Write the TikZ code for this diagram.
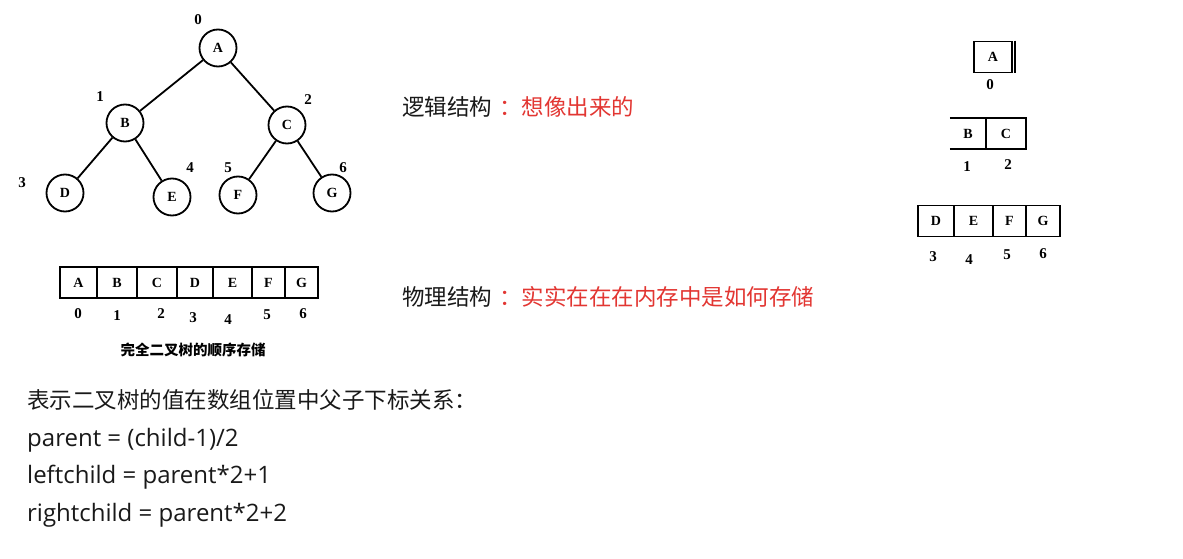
\documentclass[tikz,border=0pt]{standalone}
\usepackage{fontspec}
\setmainfont{Liberation Serif}
\newfontfamily\cjkfont{Noto Sans CJK SC}
\newfontfamily\notefont{Open Sans}
\usetikzlibrary{positioning}
\definecolor{notered}{RGB}{226,54,50}
\definecolor{noteblack}{RGB}{25,25,25}
\tikzset{
  treenode/.style={draw, circle, line width=1.8pt, minimum size=37pt, inner sep=0pt,
    font=\fontsize{14}{14}\selectfont\bfseries},
  treeedge/.style={line width=1.8pt},
  cell/.style={draw, line width=1.6pt, minimum height=31pt, inner sep=0pt,
    font=\fontsize{14}{14}\selectfont\bfseries},
  cellline/.style={line width=1.6pt},
  idx/.style={inner sep=0pt, font=\fontsize{15}{15}\selectfont\bfseries},
  notetext/.style={anchor=west, inner sep=0pt, text=noteblack,
    font=\cjkfont\fontsize{22.5}{26}\selectfont},
  formula/.style={anchor=west, inner sep=0pt, text=noteblack,
    font=\notefont\fontsize{24}{28}\selectfont}
}

\begin{document}
\begin{tikzpicture}[x=1pt, y=-1pt]
  \useasboundingbox (0,0) rectangle (1183,559);

  % logical view: the tree
  \node[treenode] (A) at (218,48) {A};
  \node[treenode] (B) at (125,123) {B};
  \node[treenode] (C) at (287,125) {C};
  \node[treenode] (D) at (65,193) {D};
  \node[treenode] (E) at (172,197) {E};
  \node[treenode] (F) at (238,195) {F};
  \node[treenode] (G) at (332,193) {G};
  \draw[treeedge] (A) -- (B);
  \draw[treeedge] (A) -- (C);
  \draw[treeedge] (B) -- (D);
  \draw[treeedge] (B) -- (E);
  \draw[treeedge] (C) -- (F);
  \draw[treeedge] (C) -- (G);
  \foreach \n/\x/\y in {0/198/20, 1/100/97, 2/308/100, 3/22/183, 4/190/168, 5/228/168, 6/343/168}
    \node[idx] (ti\n) at (\x,\y) {\n};

  % physical view: the array
  \foreach \n/\l/\r/\t/\ix/\iy in {0/60/97/A/78/314, 1/97/137/B/117/316, 2/137/177/C/161/314,
      3/177/213/D/193/318, 4/213/252/E/228/320, 5/252/285/F/267/315, 6/285/318/G/303/314} {
    \node[cell, minimum width={(\r-\l)*1pt}] (a\n) at ({(\l+\r)/2},282.5) {\t};
    \node[idx] (ai\n) at (\ix,\iy) {\n};
  }
  \node[inner sep=0pt, font=\cjkfont\bfseries\fontsize{14.5}{16}\selectfont] (caption) at (193,350) {完全二叉树的顺序存储};

  % array filled level by level
  \node[cell, minimum width=38pt] (ra) at (993,57) {A};
  \draw[cellline] ([xshift=2pt]ra.north east) -- ([xshift=2pt]ra.south east);
  \node[idx] (ri0) at (990,85) {0};
  \node[minimum width=36pt, minimum height=31pt, inner sep=0pt,
    font=\fontsize{14}{14}\selectfont\bfseries] (rb) at (968,133.5) {B};
  \node[cell, minimum width=40pt] (rc) at (1006,133.5) {C};
  \draw[cellline] (rb.north west) -- (rb.north east);
  \draw[cellline] (rb.south west) -- (rb.south east);
  \node[idx] (ri1) at (967,167) {1};
  \node[idx] (ri2) at (1008,165) {2};
  \foreach \n/\l/\r/\t/\ix/\iy in {3/918/954/D/933/257, 4/954/993/E/969/260,
      5/993/1026/F/1007/255, 6/1026/1060/G/1043/254} {
    \node[cell, minimum width={(\r-\l)*1pt}] (r\n) at ({(\l+\r)/2},221) {\t};
    \node[idx] (ri\n) at (\ix,\iy) {\n};
  }

  % notes
  \node[notetext] (logic) at (402,107) {逻辑结构\hspace{7pt}\textcolor{notered}{：想像出来的}};
  \node[notetext] (phys) at (402,297) {物理结构\hspace{7pt}\textcolor{notered}{：实实在在在内存中是如何存储}};
  \node[notetext] (rel) at (27,400) {表示二叉树的值在数组位置中父子下标关系：};
  \node[formula] (fp) at (27,440) {parent = (child-1)/2};
  \node[formula] (fl) at (27,477) {leftchild = parent*2+1};
  \node[formula] (fr) at (27,515) {rightchild = parent*2+2};
\end{tikzpicture}
\end{document}
